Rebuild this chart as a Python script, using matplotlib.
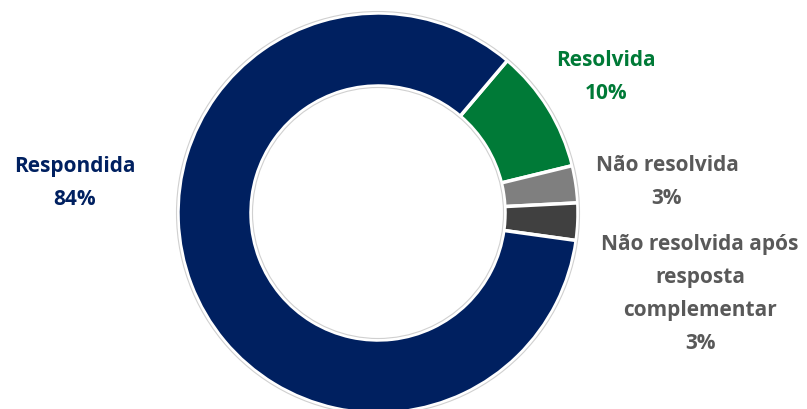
import matplotlib.pyplot as plt

labels = ["Resolvida", "Não resolvida", "Não resolvida após\nresposta\ncomplementar", "Respondida"]
values = [10, 3, 3, 84]
colors = ["#007A37", "#7F7F7F", "#404040", "#002060"]
text_colors = ["#007A37", "#595959", "#595959", "#002060"]
label_pos = [(606, 333), (667, 228), (700, 116), (75, 227)]

fig = plt.figure(figsize=(8.07, 4.10), dpi=100)
ax = fig.add_axes([0, 0, 1, 1])

cx, cy, r = 378, 196, 200
wedges, _ = ax.pie(values, colors=colors, startangle=49.7, counterclock=False,
                   center=(cx, cy), radius=r, frame=True,
                   wedgeprops=dict(width=73, edgecolor="white", linewidth=2.5))
ax.set_xlim(0, 807)
ax.set_ylim(0, 410)
ax.axis("off")

# faint outline round the ring
for rr in (r + 1.5, r - 73 - 1.5):
    ax.add_patch(plt.Circle((cx, cy), rr, fill=False, edgecolor="#d0d0d0", linewidth=0.8))

for lab, v, c, (x, y) in zip(labels, values, text_colors, label_pos):
    ax.text(x, y, f"{lab}\n{v}%", color=c, ha="center", va="center",
            fontsize=15, fontweight="bold", family="Open Sans", linespacing=1.75)

fig.savefig("out.png", dpi=100)
